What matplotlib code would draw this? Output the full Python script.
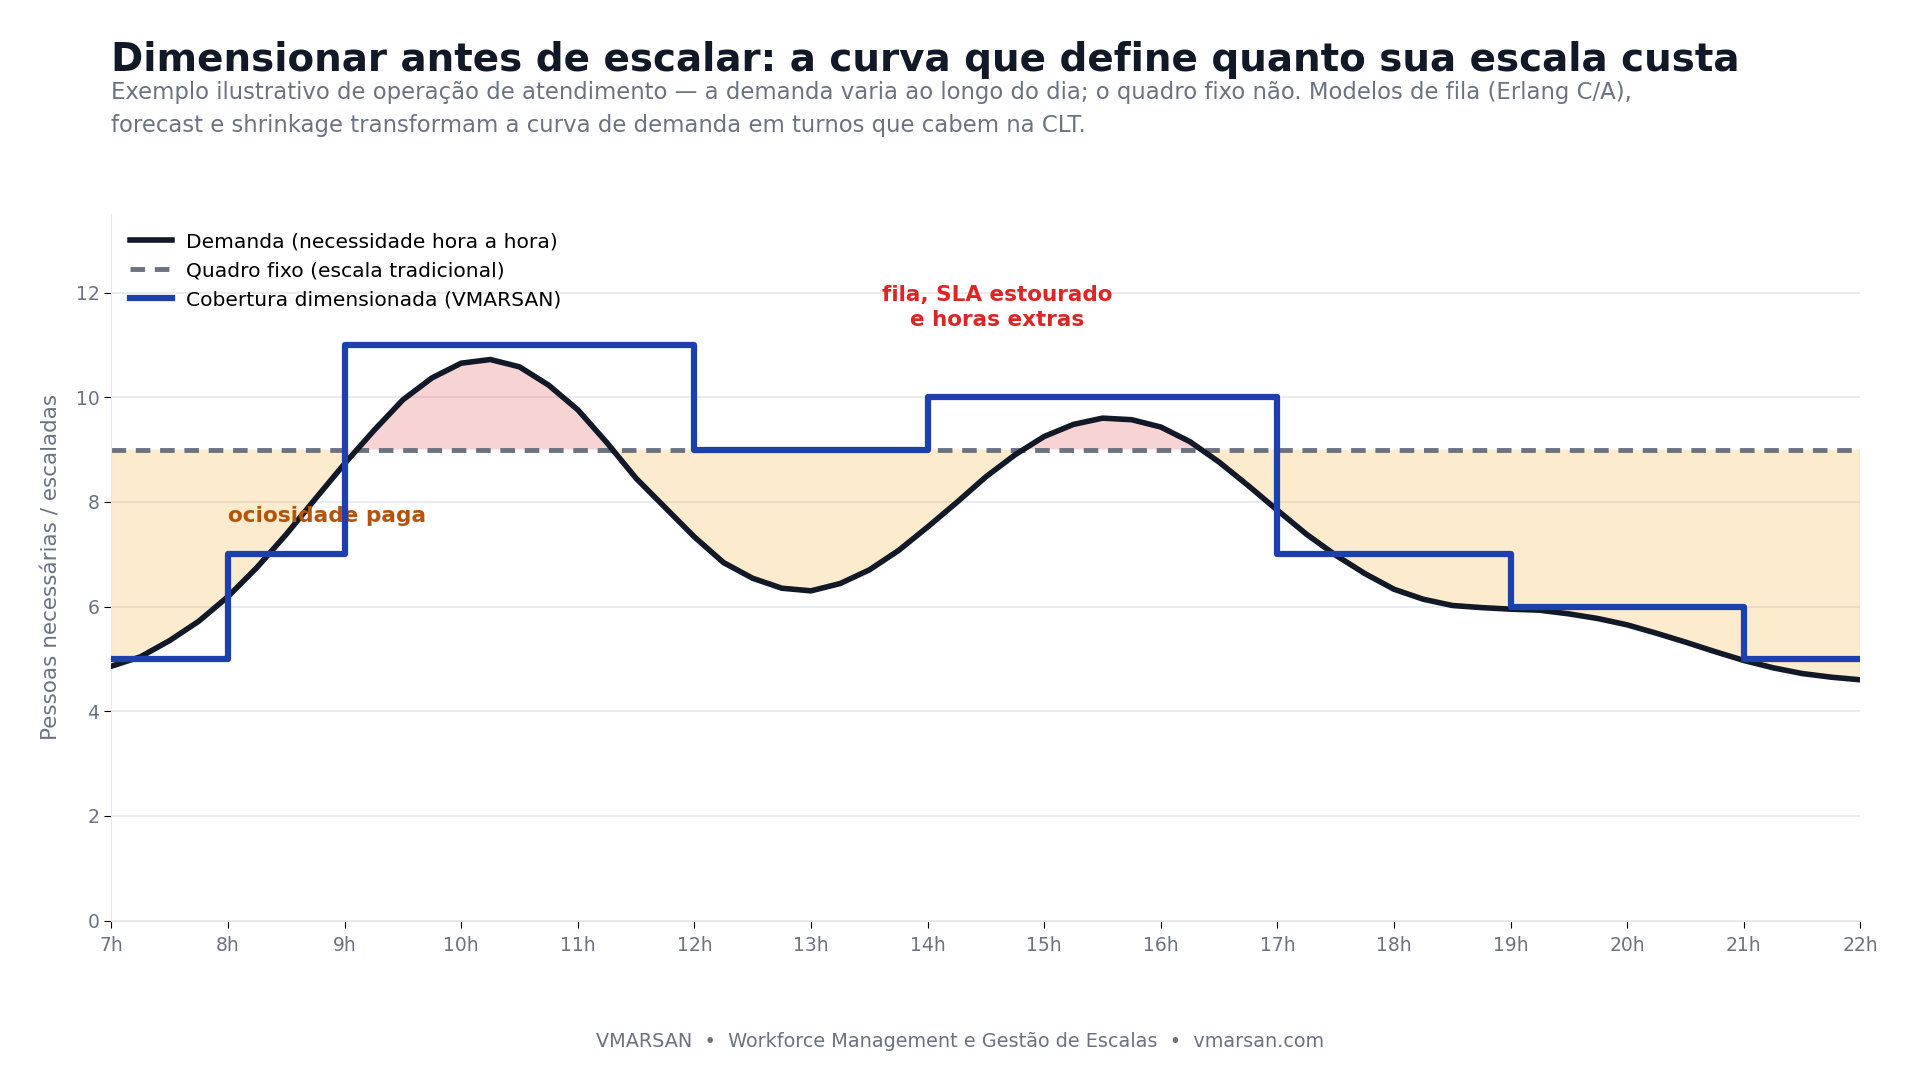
import numpy as np
import matplotlib
matplotlib.use("Agg")
import matplotlib.pyplot as plt

# demanda a cada 15 min, 7h..22h
horas = np.arange(7.0, 22.01, 0.25)
demanda = [4.86, 5.04, 5.35, 5.72, 6.19, 6.75, 7.38, 8.06, 8.73, 9.36, 9.95, 10.37,
           10.65, 10.72, 10.58, 10.23, 9.76, 9.13, 8.45, 7.89, 7.33, 6.84, 6.54, 6.35,
           6.30, 6.44, 6.70, 7.07, 7.52, 7.99, 8.48, 8.90, 9.25, 9.48, 9.60, 9.57,
           9.43, 9.15, 8.76, 8.31, 7.84, 7.38, 6.98, 6.63, 6.33, 6.14, 6.02, 5.98,
           5.95, 5.93, 5.86, 5.77, 5.65, 5.49, 5.32, 5.14, 4.97, 4.83, 4.72, 4.65, 4.60]
quadro_fixo = 9

# cobertura por turno (inicio do bloco -> pessoas)
cobertura_x = [7, 8, 9, 12, 14, 17, 19, 21, 22]
cobertura_y = [5, 7, 11, 9, 10, 7, 6, 5, 5]

xticks = list(range(7, 23))
xlabels = [f"{h}h" for h in xticks]

demanda = np.array(demanda)
fixo = np.full_like(demanda, quadro_fixo)

fig = plt.figure(figsize=(19.2, 10.92), dpi=100)
ax = fig.add_axes([0.058, 0.157, 0.911, 0.647])

ax.fill_between(horas, demanda, fixo, where=demanda <= fixo, interpolate=True,
                color="#f59e0b", alpha=0.2, linewidth=0)
ax.fill_between(horas, demanda, fixo, where=demanda >= fixo, interpolate=True,
                color="#dc2626", alpha=0.2, linewidth=0)

ax.plot(horas, demanda, color="#111827", lw=4, label="Demanda (necessidade hora a hora)", zorder=3)
ax.axhline(quadro_fixo, color="#6b7280", lw=3.5, ls=(0, (3, 2)), label="Quadro fixo (escala tradicional)", zorder=2)
ax.step(cobertura_x, cobertura_y, where="post", color="#1e40af", lw=4.5,
        label="Cobertura dimensionada (VMARSAN)", zorder=4)

ax.text(8.0, 7.73, "ociosidade paga", color="#b45309", fontsize=15.6, fontweight="bold",
        ha="left", va="center")
ax.text(14.6, 11.72, "fila, SLA estourado\ne horas extras", color="#dc2626", fontsize=15.5,
        fontweight="bold", ha="center", va="center", linespacing=1.3)

ax.set_xlim(7, 22)
ax.set_ylim(0, 13.5)
ax.set_xticks(xticks)
ax.set_xticklabels(xlabels)
ax.set_yticks([0, 2, 4, 6, 8, 10, 12])
ax.tick_params(axis="both", labelsize=13.5, labelcolor="#6b7280", length=5)
ax.tick_params(axis="x", pad=6)
ax.set_ylabel("Pessoas necessárias / escaladas", fontsize=15.5, color="#6b7280", labelpad=10)
ax.grid(axis="y", color="#e5e7eb", lw=1.2)
ax.set_axisbelow(True)
for s in ["top", "right"]:
    ax.spines[s].set_visible(False)
for s in ["left", "bottom"]:
    ax.spines[s].set_color("#e5e7eb")

ax.legend(loc="upper left", frameon=False, fontsize=14.6, handlelength=2.1,
          handletextpad=0.7, bbox_to_anchor=(0.0, 1.0))

fig.text(0.058, 0.945, "Dimensionar antes de escalar: a curva que define quanto sua escala custa",
         fontsize=28, fontweight="bold", color="#111827", va="center")
fig.text(0.058, 0.926, "Exemplo ilustrativo de operação de atendimento — a demanda varia ao longo do dia; o quadro fixo não. Modelos de fila (Erlang C/A),\nforecast e shrinkage transformam a curva de demanda em turnos que cabem na CLT.",
         fontsize=16.4, color="#6b7280", va="top", linespacing=1.55)
fig.text(0.5, 0.046, "VMARSAN  •  Workforce Management e Gestão de Escalas  •  vmarsan.com",
         fontsize=13.9, color="#6b7280", ha="center", va="center")

fig.savefig("out.png", dpi=100)
